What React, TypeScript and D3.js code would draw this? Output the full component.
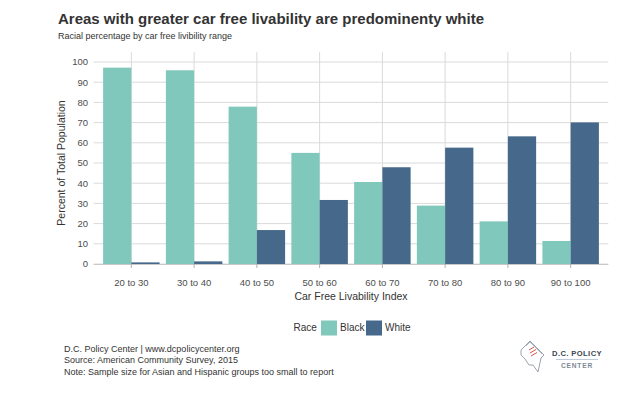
import React from "react";
import * as d3 from "d3";

const categories = ["20 to 30", "30 to 40", "40 to 50", "50 to 60", "60 to 70", "70 to 80", "80 to 90", "90 to 100"];
const blackValues = [97.2, 95.9, 77.9, 55.0, 40.6, 28.9, 21.1, 11.4];
const whiteValues = [0.8, 1.3, 16.8, 31.7, 47.9, 57.6, 63.2, 70.1];
const yTicks = [0, 10, 20, 30, 40, 50, 60, 70, 80, 90, 100];
const races = ["Black", "White"];
const footerLines = [
  "D.C. Policy Center | www.dcpolicycenter.org",
  "Source: American Community Survey, 2015",
  "Note: Sample size for Asian and Hispanic groups too small to report",
];

const W = 640;
const H = 393;
const FONT = "'Liberation Sans', Arial, Helvetica, sans-serif";
const colors: Record<string, string> = { Black: "#7fc8bb", White: "#46688a" };

export default function App() {
  const panel = { left: 93.7, right: 608.3, top: 52, bottom: 264 };
  const step = (panel.right - panel.left) / (categories.length - 1 + 1.2);

  // discrete axis with 0.6 expansion on both sides, like ggplot
  const xCenter = d3
    .scalePoint<string>()
    .domain(categories)
    .range([panel.left + 0.6 * step, panel.right - 0.6 * step]);

  const barW = step * 0.45;
  const yScale = d3.scaleLinear().domain([0, 100]).range([panel.bottom, 62]);

  const rows = categories.map((c, i) => ({ cat: c, Black: blackValues[i], White: whiteValues[i] }));

  return (
    <svg
      width={W}
      height={H}
      style={{ position: "absolute", left: 0, top: 0, background: "#fff", fontFamily: FONT }}
    >
      {/* title */}
      <text x={58} y={23.5} fontSize={15} fontWeight="bold" fill="#333">
        Areas with greater car free livability are predominenty white
      </text>
      <text x={58} y={39} fontSize={9} fill="#333">
        Racial percentage by car free livibility range
      </text>

      {/* gridlines */}
      {yTicks.map((t) => (
        <line key={"h" + t} x1={panel.left} x2={panel.right} y1={yScale(t)} y2={yScale(t)} stroke="#dadada" strokeWidth={1} />
      ))}
      {categories.map((c) => (
        <line key={"v" + c} x1={xCenter(c)} x2={xCenter(c)} y1={panel.top} y2={panel.bottom} stroke="#dadada" strokeWidth={1} />
      ))}

      {/* bars */}
      {rows.map((r) =>
        races.map((race, j) => {
          const v = (r as any)[race] as number;
          const cx = xCenter(r.cat) as number;
          const x0 = cx - barW + j * barW;
          return (
            <rect
              key={r.cat + race}
              x={x0}
              y={yScale(v)}
              width={barW}
              height={panel.bottom - yScale(v)}
              fill={colors[race]}
            />
          );
        })
      )}

      {/* x axis */}
      <line x1={panel.left} x2={panel.right} y1={panel.bottom + 0.5} y2={panel.bottom + 0.5} stroke="#c8c8c8" />
      {categories.map((c) => (
        <g key={"xt" + c}>
          <line x1={xCenter(c)} x2={xCenter(c)} y1={panel.bottom} y2={panel.bottom + 4} stroke="#b0b0b0" />
          <text x={xCenter(c)} y={286} textAnchor="middle" fontSize={9.5} fill="#4d4d4d">
            {c}
          </text>
        </g>
      ))}
      <text x={(panel.left + panel.right) / 2} y={300} textAnchor="middle" fontSize={10.5} fill="#333">
        Car Free Livability Index
      </text>

      {/* y axis */}
      {yTicks.map((t) => (
        <text key={"yt" + t} x={88} y={yScale(t) + 3.3} textAnchor="end" fontSize={9.5} fill="#4d4d4d">
          {t}
        </text>
      ))}
      <text
        transform={`translate(64.5,${(panel.top + panel.bottom) / 2 + 5}) rotate(-90)`}
        textAnchor="middle"
        fontSize={10.5}
        fill="#333"
      >
        Percent of Total Population
      </text>

      {/* legend */}
      <text x={293.5} y={331} fontSize={10} fill="#333">
        Race
      </text>
      {races.map((race, i) => {
        const x0 = i === 0 ? 321 : 366;
        return (
          <g key={"lg" + race}>
            <rect x={x0} y={320.5} width={16} height={15} fill={colors[race]} />
            <text x={x0 + 19} y={331} fontSize={10} fill="#333">
              {race}
            </text>
          </g>
        );
      })}

      {/* footer */}
      {footerLines.map((l, i) => (
        <text key={"f" + i} x={64} y={352 + i * 11.3} fontSize={9} fill="#333">
          {l}
        </text>
      ))}

      {/* logo */}
      <g>
        <path
          d="M521,350 L530,341 L544,355 L541,358 L538,372 L533,365 L529,365 L525,359 L521,355 Z"
          fill="none"
          stroke="#9aa3ae"
          strokeWidth={1}
          strokeLinejoin="round"
        />
        <path d="M526,346 L530,342 L542,354" fill="none" stroke="#9aa3ae" strokeWidth={0.8} />
        <line x1={529} y1={350} x2={534} y2={347} stroke="#e0504a" strokeWidth={1} />
        <line x1={530} y1={353} x2={536} y2={349.5} stroke="#e0504a" strokeWidth={1} />
        <line x1={531} y1={356} x2={537} y2={352.5} stroke="#e0504a" strokeWidth={1} />
        <text x={577} y={356} textAnchor="middle" fontSize={7.6} fontWeight="bold" fill="#3a4654" letterSpacing={0.4}>
          D.C. POLICY
        </text>
        <line x1={556} x2={598} y1={359.5} y2={359.5} stroke="#9fb3c8" strokeWidth={0.7} />
        <text x={577} y={367.5} textAnchor="middle" fontSize={6.6} fontWeight="bold" fill="#7b8794" letterSpacing={0.8}>
          CENTER
        </text>
      </g>
    </svg>
  );
}
